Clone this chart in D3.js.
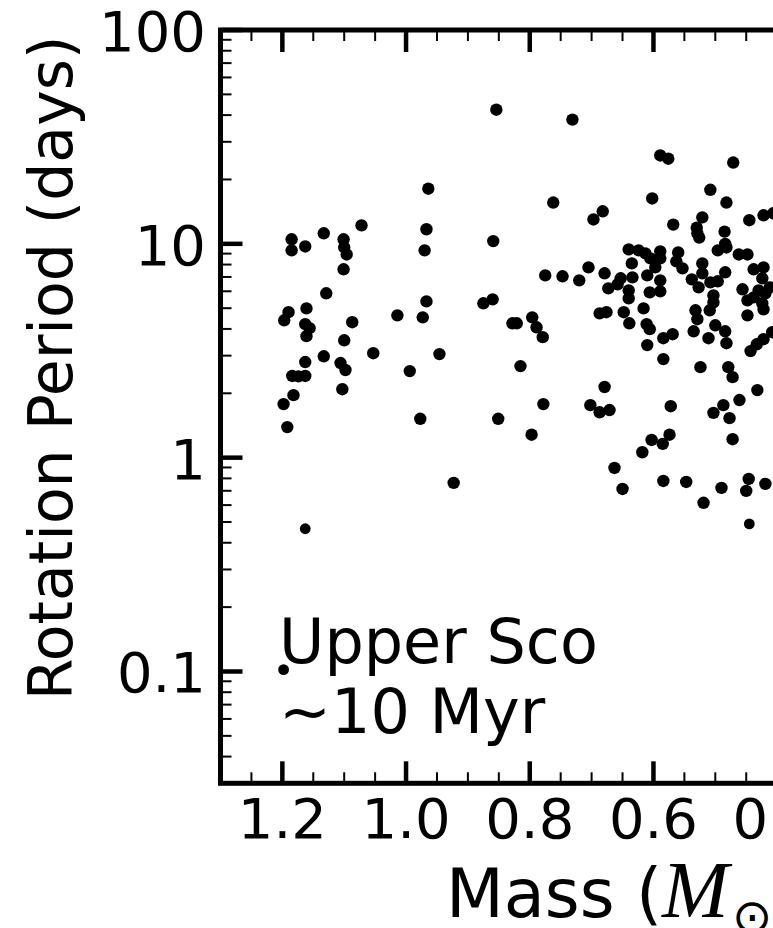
<!DOCTYPE html>
<html>
<head>
<meta charset="utf-8">
<script src="https://cdn.jsdelivr.net/npm/d3@7"></script>
<style>
  html, body { margin: 0; padding: 0; background: #fff; overflow: hidden; }
  svg { display: block; overflow: hidden; }
</style>
</head>
<body>
<svg id="chart" width="773" height="928"></svg>
<script>
// ---- Data (Upper Sco, ~10 Myr) ----
const masses = [
  0.854, 0.964, 1.072, 0.967, 1.133, 1.185, 1.101, 0.859, 1.163, 1.185,
  1.100, 1.096, 0.970, 1.101, 0.731, 0.589, 0.576, 0.471, 0.762, 0.602,
  0.508, 0.482, 0.682, 0.697, 0.568, 0.521, 0.530, 0.529, 0.526, 0.485,
  0.445, 0.422, 0.406, 0.640, 0.624, 0.613, 0.605, 0.589, 0.589, 0.560,
  0.563, 0.553, 0.496, 0.484, 0.482, 0.462, 0.448, 0.635, 0.597, 0.521,
  0.521, 0.484, 0.438, 0.422, 0.705, 0.679, 0.775, 0.747, 0.720, 0.653,
  0.634, 0.610, 0.589, 0.538, 1.129, 0.967, 0.875, 0.860, 1.190, 1.197,
  1.161, 1.087, 1.014, 0.973, 1.163, 1.156, 1.161, 1.100, 1.053, 0.946,
  1.133, 1.163, 1.106, 1.098, 0.994, 1.184, 1.174, 1.163, 1.103, 1.182,
  1.198, 1.192, 0.977, 0.851, 0.923, 0.673, 0.658, 0.589, 0.606, 0.640,
  0.640, 0.527, 0.508, 0.496, 0.456, 0.424, 0.430, 0.419, 0.448, 0.438,
  0.424, 0.422, 0.412, 0.503, 0.503, 0.509, 0.532, 0.529, 0.448, 0.828,
  0.821, 0.796, 0.789, 0.779, 0.687, 0.676, 0.648, 0.616, 0.639, 0.611,
  0.606, 0.610, 0.584, 0.569, 0.535, 0.511, 0.500, 0.484, 0.482, 0.443,
  0.433, 0.422, 0.408, 0.815, 0.584, 0.524, 0.479, 0.472, 0.679, 0.778,
  0.702, 0.687, 0.671, 0.572, 0.432, 0.461, 0.487, 0.503, 0.477, 0.797,
  0.603, 0.585, 0.574, 0.618, 0.472, 0.663, 0.650, 0.584, 0.547, 0.519,
  0.490, 0.446, 0.450, 0.419
];
const periods = [
  42.4, 18.1, 12.2, 11.7, 11.2, 10.5, 10.5, 10.3, 9.72, 9.32,
  9.62, 8.92, 9.32, 7.60, 38.1, 25.9, 25.0, 24.0, 15.6, 16.3,
  17.9, 15.6, 14.2, 13.0, 12.3, 13.3, 11.9, 11.2, 10.7, 11.4,
  12.9, 13.6, 13.9, 9.42, 9.32, 9.02, 8.55, 9.22, 8.55, 9.12,
  8.28, 7.68, 9.32, 10.0, 9.62, 8.92, 8.92, 8.10, 7.76, 8.10,
  7.28, 7.36, 7.60, 7.76, 7.76, 7.28, 7.12, 7.05, 6.75, 6.90,
  6.97, 7.12, 6.75, 6.82, 5.87, 5.38, 5.27, 5.50, 4.79, 4.39,
  4.99, 4.30, 4.63, 4.53, 4.21, 4.03, 3.70, 3.54, 3.08, 3.05,
  2.98, 2.80, 2.77, 2.57, 2.54, 2.41, 2.40, 2.41, 2.09, 1.96,
  1.78, 1.39, 1.52, 1.52, 0.762, 6.19, 6.46, 6.00, 5.93, 6.06,
  5.56, 6.26, 6.60, 6.68, 6.13, 6.90, 6.06, 5.87, 5.44, 5.62,
  5.27, 4.94, 6.26, 5.74, 5.33, 4.89, 4.89, 4.44, 4.63, 4.25,
  4.25, 4.53, 4.07, 3.66, 4.73, 4.79, 4.79, 4.99, 4.25, 4.21,
  3.99, 3.36, 3.62, 3.78, 3.90, 3.62, 4.16, 3.90, 3.43, 3.15,
  3.39, 3.58, 3.86, 2.68, 2.89, 2.65, 2.65, 2.38, 2.14, 1.78,
  1.76, 1.63, 1.67, 1.74, 2.07, 1.86, 1.76, 1.62, 1.53, 1.28,
  1.21, 1.16, 1.28, 1.06, 1.22, 0.895, 0.714, 0.778, 0.770, 0.615,
  0.722, 0.795, 0.699, 0.754
];
// second (smaller-marker) group
const massesB  = [0.445, 1.163, 1.198];
const periodsB = [0.490, 0.465, 0.102];

const xMajorTicks = [1.2, 1.0, 0.8, 0.6, 0.4, 0.2];
const xTickLabels = ["1.2", "1.0", "0.8", "0.6", "0.4", "0.2"];
const yMajorTicks = [0.1, 1, 10, 100];
const yTickLabels = ["0.1", "1", "10", "100"];
const xLabelText = "Mass (";
const yLabelText = "Rotation Period (days)";
const noteLines = ["Upper Sco", "~10 Myr"];

// ---- Layout ----
const L = 220.5, T = 30, B = 783.3, R = 220.5 + 1.3 * 618.5;
const svg = d3.select("#chart");
const x = d3.scaleLinear().domain([1.3, 0.0]).range([L, R]);
const y = d3.scaleLog().domain([0.03, 100]).range([B, T]);

const font = "'DejaVu Sans', sans-serif";

// minor ticks
const xMinor = d3.range(0, 27).map(i => +(i * 0.05).toFixed(2))
  .filter(v => !xMajorTicks.some(m => Math.abs(m - v) < 1e-6) && v < 1.3 && v > 0);
const yMinor = [];
[0.01, 0.1, 1, 10].forEach(d => { for (let k = 2; k <= 9; k++) { const v = +(k * d).toPrecision(3); if (v > 0.03 && v < 100) yMinor.push(v); } });

// points
svg.append("g").selectAll("circle.a").data(masses.map((m, i) => [m, periods[i]]))
  .join("circle").attr("class", "a")
  .attr("cx", d => x(d[0])).attr("cy", d => y(d[1])).attr("r", 6.2).attr("fill", "#000");
svg.append("g").selectAll("circle.b").data(massesB.map((m, i) => [m, periodsB[i]]))
  .join("circle").attr("class", "b")
  .attr("cx", d => x(d[0])).attr("cy", d => y(d[1])).attr("r", 5.4).attr("fill", "#000");

// ticks (inward), bottom & top
const tg = svg.append("g").attr("stroke", "#000");
const majL = 22, minL = 11, majW = 4.5, minW = 2;
[B, T].forEach(py => {
  const dir = py === B ? -1 : 1;
  tg.selectAll(null).data(xMajorTicks).join("line")
    .attr("x1", d => x(d)).attr("x2", d => x(d)).attr("y1", py).attr("y2", py + dir * majL)
    .attr("stroke-width", majW);
  tg.selectAll(null).data(xMinor).join("line")
    .attr("x1", d => x(d)).attr("x2", d => x(d)).attr("y1", py).attr("y2", py + dir * minL)
    .attr("stroke-width", minW);
});
// left ticks
tg.selectAll(null).data(yMajorTicks).join("line")
  .attr("x1", L).attr("x2", L + majL).attr("y1", d => y(d)).attr("y2", d => y(d))
  .attr("stroke-width", majW);
tg.selectAll(null).data(yMinor).join("line")
  .attr("x1", L).attr("x2", L + minL).attr("y1", d => y(d)).attr("y2", d => y(d))
  .attr("stroke-width", minW);

// spines
svg.append("rect").attr("x", L).attr("y", T).attr("width", R - L).attr("height", B - T)
  .attr("fill", "none").attr("stroke", "#000").attr("stroke-width", 5);

// tick labels
svg.append("g").selectAll("text").data(xMajorTicks).join("text")
  .attr("x", d => x(d)).attr("y", 838).attr("text-anchor", "middle")
  .attr("font-family", font).attr("font-size", 56).attr("fill", "#000")
  .text((d, i) => xTickLabels[i]);
svg.append("g").selectAll("text").data(yMajorTicks).join("text")
  .attr("x", 206).attr("y", d => y(d) + 21).attr("text-anchor", "end")
  .attr("font-family", font).attr("font-size", 56).attr("fill", "#000")
  .text((d, i) => yTickLabels[i]);

// axis labels
svg.append("text")
  .attr("transform", "translate(72,368) rotate(-90)")
  .attr("text-anchor", "middle").attr("font-family", font).attr("font-size", 60).attr("fill", "#000")
  .text(yLabelText);

const xl = svg.append("text").attr("y", 917).attr("font-family", font).attr("font-size", 67).attr("fill", "#000");
xl.append("tspan").attr("x", 446).text(xLabelText);
xl.append("tspan").attr("x", 662).attr("font-family", "'Liberation Serif', 'DejaVu Serif', serif")
  .attr("font-style", "italic").attr("font-size", 80).text("M");
xl.append("tspan").attr("x", 732).attr("dy", 16).attr("font-size", 48).text("\u2299");
xl.append("tspan").attr("dy", -16).text(")");

// annotation
const note = svg.append("text").attr("font-family", font).attr("font-size", 62).attr("fill", "#000");
noteLines.forEach((t, i) => note.append("tspan").attr("x", 279).attr("y", 663 + i * 70).text(t));
</script>
</body>
</html>
